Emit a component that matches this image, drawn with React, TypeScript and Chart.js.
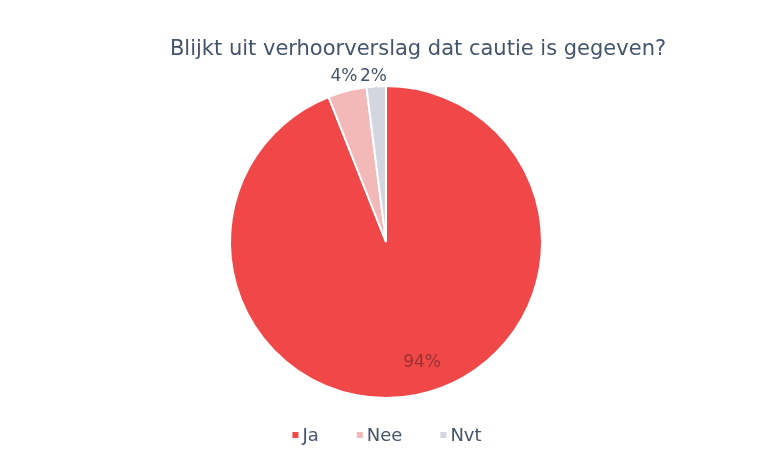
import React, { useEffect, useRef } from "react";
import { Chart, registerables } from "chart.js";

Chart.register(...registerables);

const titleText = "Blijkt uit verhoorverslag dat cautie is gegeven?";
const categories = ["Ja", "Nee", "Nvt"];
const values = [94, 4, 2];
const colors = ["#F04849", "#F3B9B9", "#D3D6DE"];

const TEXT = "#44546A";
const FONT = '"DejaVu Sans", Verdana, sans-serif';

const labelPlugin = {
  id: "customDecor",
  afterDraw(chart: any) {
    const ctx = chart.ctx;
    ctx.save();
    // title
    ctx.font = `21px ${FONT}`;
    ctx.fillStyle = TEXT;
    ctx.textAlign = "center";
    ctx.textBaseline = "alphabetic";
    ctx.fillText(titleText, 418, 55);

    // data labels
    const meta = chart.getDatasetMeta(0);
    const total = values.reduce((a, b) => a + b, 0);
    meta.data.forEach((arc: any, i: number) => {
      const { x, y, startAngle, endAngle, outerRadius } = arc.getProps(
        ["x", "y", "startAngle", "endAngle", "outerRadius"],
        true
      );
      const mid = (startAngle + endAngle) / 2;
      const pct = Math.round((values[i] / total) * 100) + "%";
      const inside = values[i] / total > 0.2;
      const r = inside ? outerRadius * 0.79 : outerRadius + 13;
      let lx = x + Math.cos(mid) * r;
      let ly = y + Math.sin(mid) * r;
      if (inside) {
        lx += 13;
        ctx.font = `17px ${FONT}`;
        ctx.fillStyle = "rgba(120,40,40,0.7)";
      } else {
        ctx.font = `17px ${FONT}`;
        ctx.fillStyle = TEXT;
        ly = y - outerRadius - 9;
        lx = i === 1 ? lx : lx - 2;
      }
      ctx.textAlign = "center";
      ctx.textBaseline = "middle";
      ctx.fillText(pct, lx, ly);
    });

    // legend
    ctx.font = `18px ${FONT}`;
    const box = 6;
    const gapBox = 4;
    const gapItem = 38;
    const widths = categories.map((c) => box + gapBox + ctx.measureText(c).width);
    const totalW = widths.reduce((a, b) => a + b, 0) + gapItem * (categories.length - 1);
    let cx = 387 - totalW / 2;
    const cy = 435;
    categories.forEach((c, i) => {
      ctx.fillStyle = colors[i];
      ctx.fillRect(cx, cy - box / 2, box, box);
      ctx.fillStyle = TEXT;
      ctx.textAlign = "left";
      ctx.textBaseline = "middle";
      ctx.fillText(c, cx + box + gapBox, cy + 1);
      cx += widths[i] + gapItem;
    });
    ctx.restore();
  },
};

export default function App() {
  const ref = useRef<HTMLCanvasElement | null>(null);
  useEffect(() => {
    if (!ref.current) return;
    const chart = new Chart(ref.current, {
      type: "pie",
      data: {
        labels: categories,
        datasets: [
          {
            data: values,
            backgroundColor: colors,
            borderColor: "#ffffff",
            borderWidth: 2,
          },
        ],
      },
      options: {
        animation: false,
        responsive: false,
        maintainAspectRatio: false,
        layout: { padding: { top: 85, bottom: 71, left: 14, right: 0 } },
        plugins: {
          legend: { display: false },
          title: { display: false },
          tooltip: { enabled: false },
        },
      },
      plugins: [labelPlugin],
    });
    return () => chart.destroy();
  }, []);
  return (
    <div style={{ position: "fixed", left: 0, top: 0, width: 758, height: 470, background: "#fff" }}>
      <canvas ref={ref} width={758} height={470} style={{ width: 758, height: 470 }} />
    </div>
  );
}
